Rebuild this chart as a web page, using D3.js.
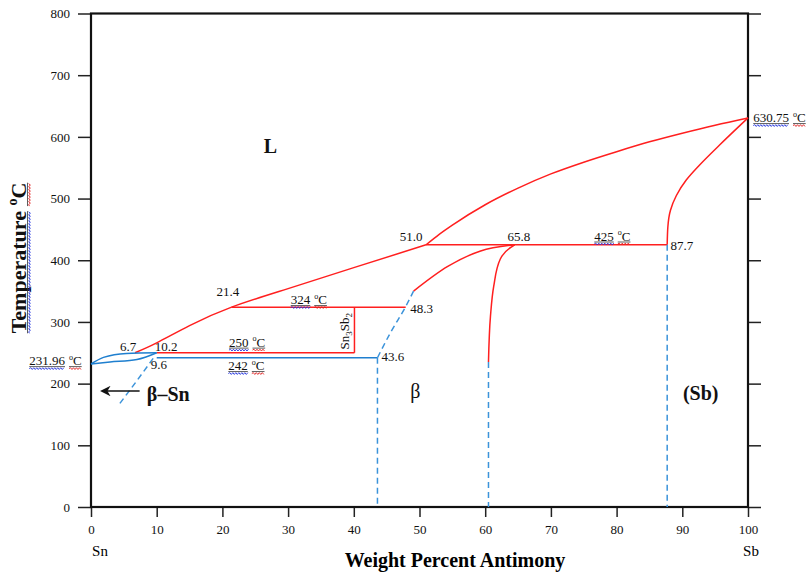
<!DOCTYPE html>
<html>
<head>
<meta charset="utf-8">
<script src="https://cdn.jsdelivr.net/npm/d3@7"></script>
<style>
body { margin: 0; background: #fff; }
text { font-family: "Liberation Serif", "Times New Roman", serif; }
</style>
</head>
<body>
<div id="chart"></div>
<script>
var xTicks = [0,10,20,30,40,50,60,70,80,90,100]
var yTicks = [0,100,200,300,400,500,600,700,800]

// phase boundaries, [wt% Sb, temperature C]
var liquidusSn = [[6.7,250],[10,266],[15,294],[21.4,324],[30,354],[40,388],[51,425]]
var liquidusSb = [[51,425],[53,442],[55,457],[60,490],[65,517],[70,540],[75,559],[80,576],[85,592],[90,606],[95,619],[100,630.75]]
var sbSolidus = [[87.7,425],[87.8,454],[88.2,481],[89.1,505],[90.6,530],[92.6,554],[95.6,586],[100,630.75]]
var betaLiquidus = [[49.1,350],[54.3,390],[59.3,415],[64.5,425]]
var betaRight = [[60.5,235],[60.8,309],[61.3,358],[62.3,402],[63.9,421],[64.5,425]]
var betaLeftDash = [[43.6,242],[45.6,283],[47.9,325],[49.1,350]]
var snUpper = [[0,231.96],[1.9,242.5],[5.4,249],[10,250]]
var snLower = [[0,231.96],[2.9,235],[7,239],[10,250]]
var snDash = [[4.4,168],[7,205],[9.8,246]]

var redSegments = [[[21.4,324],[47.9,324]], [[10,250],[40.1,250]], [[40.1,250],[40.1,324]], [[51,425],[87.7,425]]]
var blueSegments = [[[10,242],[43.6,242]]]
var dashVerticals = [[43.6,242],[60.5,235],[87.7,425]]

var numLabels = [
    {t:"6.7", x:4.4, y:253}, {t:"10.2", x:9.7, y:253}, {t:"9.6", x:9.1, y:224},
    {t:"21.4", x:19.1, y:342}, {t:"48.3", x:48.6, y:314}, {t:"43.6", x:44.2, y:236.5},
    {t:"51.0", x:47, y:432}, {t:"65.8", x:63.4, y:432}, {t:"87.7", x:88.2, y:416}
]
var tempLabels = [
    {t:"324", x:30.4, y:329}, {t:"250", x:21, y:260}, {t:"242", x:20.9, y:222},
    {t:"425", x:76.6, y:432}, {t:"630.75", x:100.8, y:624}, {t:"231.96", x:-9.4, y:230}
]
var phaseLabels = [
    {t:"L", x:26.3, y:574, bold:true}, {t:"β", x:48.6, y:176}, {t:"β–Sn", x:8.5, y:172, bold:true},
    {t:"(Sb)", x:90.1, y:173, bold:true}
]

var W = 812, H = 572
var x = d3.scaleLinear().domain([0,100]).range([91,748])
var y = d3.scaleLinear().domain([0,800]).range([507,13.5])

var svg = d3.select("#chart").append("svg").attr("width",W).attr("height",H)

var red = "#ff1f1f", blue = "#1f7fcf", dashBlue = "#3b93da"
function path(c){ return d3.line().x(function(d){ return x(d[0]) }).y(function(d){ return y(d[1]) }).curve(c || d3.curveLinear) }

// axes
var left = svg.append("g").attr("transform","translate(91,0)")
    .call(d3.axisLeft(y).tickValues(yTicks).tickSize(13).tickPadding(8).tickSizeOuter(0))
var bottom = svg.append("g").attr("transform","translate(0,507)")
    .call(d3.axisBottom(x).tickValues(xTicks).tickSize(10).tickPadding(8).tickSizeOuter(0))
var right = svg.append("g").attr("transform","translate(748,0)")
    .call(d3.axisRight(y).tickValues(yTicks).tickSize(13).tickFormat("").tickSizeOuter(0))
;[left,bottom,right].forEach(function(a){
    a.attr("font-family","Liberation Serif")
    a.select(".domain").remove()
    a.selectAll(".tick line").attr("stroke","#222").attr("stroke-width",1.5)
    a.selectAll(".tick text").attr("font-size",13).attr("fill","#111")
})

svg.append("rect").attr("x",x(0)).attr("y",y(800)).attr("width",x(100)-x(0)).attr("height",y(0)-y(800))
    .attr("fill","none").attr("stroke","#111").attr("stroke-width",2.2)

// boundaries
var g = svg.append("g").attr("fill","none").attr("stroke-width",1.5)
g.append("path").attr("d",path(d3.curveNatural)(liquidusSn)).attr("stroke",red)
g.append("path").attr("d",path(d3.curveMonotoneX)(liquidusSb)).attr("stroke",red)
g.append("path").attr("d",path(d3.curveMonotoneY)(sbSolidus)).attr("stroke",red)
g.append("path").attr("d",path(d3.curveMonotoneX)(betaLiquidus)).attr("stroke",red)
g.append("path").attr("d",path(d3.curveMonotoneY)(betaRight)).attr("stroke",red)
redSegments.forEach(function(s){ g.append("path").attr("d",path()(s)).attr("stroke",red) })
;[snUpper, snLower].forEach(function(c){ g.append("path").attr("d",path(d3.curveMonotoneX)(c)).attr("stroke",blue) })
blueSegments.forEach(function(s){ g.append("path").attr("d",path()(s)).attr("stroke",blue) })
;[betaLeftDash, snDash].forEach(function(c){
    g.append("path").attr("d",path(d3.curveMonotoneX)(c)).attr("stroke",dashBlue).attr("stroke-dasharray","6,4")
})
dashVerticals.forEach(function(d){
    g.append("path").attr("d",path()([[d[0],d[1]],[d[0],0]])).attr("stroke",dashBlue).attr("stroke-dasharray","6,4")
})

function wavy(parent, x0, x1, yy, color){
    var d = "M" + x0 + "," + yy, up = true
    for (var xx = x0 + 1.5; xx <= x1; xx += 1.5) { d += " L" + xx + "," + (yy + (up ? -0.9 : 0.9)); up = !up }
    parent.append("path").attr("d",d).attr("fill","none").attr("stroke",color).attr("stroke-width",0.9)
}
function underline(parent, x0, x1, yy, color){
    parent.append("line").attr("x1",x0).attr("x2",x1).attr("y1",yy+1.5).attr("y2",yy+1.5).attr("stroke","#333").attr("stroke-width",0.8)
    wavy(parent, x0, x1, yy+3.5, color)
}
function degC(parent, px, py, size){
    var t = parent.append("text").attr("x",px).attr("y",py).attr("font-size",size).attr("fill","#111")
    t.append("tspan").attr("font-size",size*0.62).attr("dy",-size*0.4).text("o")
    t.append("tspan").attr("dy",size*0.4).text("C")
    return t
}

var labels = svg.append("g")
numLabels.forEach(function(d){
    labels.append("text").attr("x",x(d.x)).attr("y",y(d.y)).attr("font-size",13).attr("fill","#111").text(d.t)
})
tempLabels.forEach(function(d){
    var px = x(d.x), py = y(d.y)
    var n = labels.append("text").attr("x",px).attr("y",py).attr("font-size",13).attr("fill","#111").text(d.t)
    var w = n.node().getComputedTextLength()
    var c = degC(labels, px + w + 4, py, 13)
    var cw = c.node().getComputedTextLength()
    underline(labels, px, px + w, py, "#2233dd")
    underline(labels, px + w + 4, px + w + 4 + cw, py, "#e02020")
})
phaseLabels.forEach(function(d){
    labels.append("text").attr("x",x(d.x)).attr("y",y(d.y)).attr("font-size",20)
        .attr("font-weight",d.bold ? "bold" : "normal").attr("fill","#111").text(d.t)
})

// Sn3Sb2 compound label
var comp = labels.append("text").attr("transform","translate(" + x(39.3) + "," + y(285) + ") rotate(-90)")
    .attr("text-anchor","middle").attr("font-size",13).attr("fill","#111")
comp.append("tspan").text("Sn")
comp.append("tspan").attr("font-size",9).attr("dy",3).text("3")
comp.append("tspan").attr("dy",-3).text("Sb")
comp.append("tspan").attr("font-size",9).attr("dy",3).text("2")

// arrow toward pure Sn
svg.append("defs").append("marker").attr("id","head").attr("viewBox","0 0 10 10")
    .attr("refX",8).attr("refY",5).attr("markerWidth",7).attr("markerHeight",7).attr("orient","auto")
    .append("path").attr("d","M0,0 L10,5 L0,10 L3,5 z").attr("fill","#111")
svg.append("line").attr("x1",x(7.4)).attr("x2",x(1.7)).attr("y1",y(188)).attr("y2",y(188))
    .attr("stroke","#111").attr("stroke-width",1.5).attr("marker-end","url(#head)")

// axis titles
svg.append("text").attr("x",x(0) + 9).attr("y",556).attr("text-anchor","middle").attr("font-size",15).text("Sn")
svg.append("text").attr("x",x(100) + 3).attr("y",556).attr("text-anchor","middle").attr("font-size",15).text("Sb")
svg.append("text").attr("x",455).attr("y",567).attr("text-anchor","middle").attr("font-size",20)
    .attr("font-weight","bold").text("Weight Percent Antimony")

var yt = svg.append("g").attr("transform","translate(26,258) rotate(-90)")
var ytt = yt.append("text").attr("x",0).attr("y",0).attr("text-anchor","middle")
    .attr("font-size",22).attr("font-weight","bold").attr("fill","#111")
ytt.append("tspan").text("Temperature ")
ytt.append("tspan").attr("font-size",14).attr("dy",-9).text("o")
ytt.append("tspan").attr("dy",9).text("C")
var tw = ytt.node().getComputedTextLength()
var wordW = ytt.node().getSubStringLength(0, 11)
underline(yt, -tw/2, -tw/2 + wordW, 0, "#2233dd")
underline(yt, -tw/2 + wordW + 5, tw/2, 0, "#e02020")
</script>
</body>
</html>
